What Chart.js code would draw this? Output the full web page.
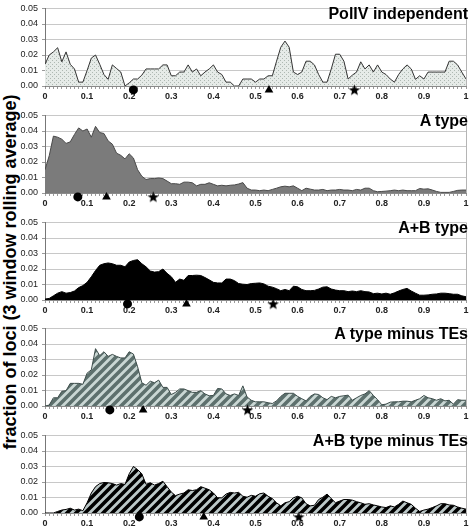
<!DOCTYPE html>
<html><head><meta charset="utf-8">
<script src="https://cdn.jsdelivr.net/npm/chart.js@4.4.0/dist/chart.umd.min.js"></script>
<style>
html,body{margin:0;padding:0;background:#fff;}
#wrap{position:relative;width:472px;height:530px;overflow:hidden;font-family:"Liberation Sans",Arial,sans-serif;}
canvas{position:absolute;left:0;}
.ttl{position:absolute;right:4px;font-weight:bold;font-size:16px;line-height:18px;color:#000;white-space:nowrap;}
#ytitle{position:absolute;left:10px;top:272px;transform:translate(-50%,-50%) rotate(-90deg);font-weight:bold;font-size:18px;line-height:20px;white-space:nowrap;color:#000;}
</style></head><body><div id="wrap">
<div id="ytitle">fraction of loci (3 window rolling average)</div>
</div>
<script>
// ---------- data ----------
const bins = Array.from({length:101},(_,i)=>i/100);
const xTickLabels = ['0','0.1','0.2','0.3','0.4','0.5','0.6','0.7','0.8','0.9','1'];
const yTickLabels = ['0.00','0.01','0.02','0.03','0.04','0.05'];
const panelTitles = ['PolIV independent','A type','A+B type','A type minus TEs','A+B type minus TEs'];

const polIV = [0.014,0.020,0.022,0.0247,0.0156,0.022,0.014,0.011,0.0025,0.0025,
0.010,0.018,0.020,0.014,0.0074,0.0043,0.0136,0.0113,0.009,0.0,
0.002,0.0045,0.0045,0.007,0.011,0.011,0.011,0.011,0.0136,0.0136,
0.0066,0.0066,0.009,0.009,0.0136,0.009,0.011,0.0066,0.009,0.011,
0.0136,0.009,0.0074,0.0025,0.0025,0,0,0.0045,0.0045,0.0045,
0.0025,0.0045,0.0045,0.0066,0.0066,0.016,0.025,0.029,0.025,0.009,
0.0074,0.009,0.016,0.016,0.0136,0.0074,0.0025,0.0025,0.011,0.0205,
0.0205,0.016,0.0045,0.007,0.009,0.0156,0.011,0.0136,0.009,0.0136,
0.009,0.0074,0.0045,0.0025,0.0074,0.011,0.0136,0.011,0.0043,0.0066,
0.0045,0.009,0.009,0.009,0.009,0.009,0.016,0.016,0.0136,0.009,
0.0045];

const aType = [0.015,0.024,0.0367,0.036,0.0347,0.032,0.033,0.0378,0.042,0.040,
0.0413,0.036,0.043,0.039,0.0384,0.0336,0.0315,0.0257,0.0243,0.022,
0.0253,0.0226,0.015,0.0108,0.0087,0.0093,0.0093,0.0097,0.0093,0.0077,
0.006,0.006,0.0056,0.007,0.007,0.0066,0.0046,0.0056,0.0056,0.0066,
0.0056,0.0046,0.005,0.0046,0.005,0.0052,0.0058,0.0067,0.0031,0.0019,
0.0019,0.0015,0.0019,0.0015,0.0023,0.0031,0.004,0.0044,0.004,0.0046,
0.0031,0.0015,0.0031,0.0025,0.0019,0.0019,0.0023,0.0015,0.0019,0.0019,
0.0023,0.0019,0.0019,0.0015,0.0023,0.0019,0.0031,0.0031,0.0015,0.0008,
0.001,0.0012,0.0015,0.0019,0.0015,0.0019,0.0015,0.0015,0.0015,0.0029,
0.0025,0.0027,0.0019,0.001,0.0004,0.0004,0.0004,0.001,0.0017,0.0019,
0.0019];

const abType = [0.0006,0.001,0.0027,0.0044,0.0054,0.0044,0.0048,0.0058,0.008,0.0093,
0.0114,0.015,0.019,0.0224,0.0234,0.0239,0.0234,0.0224,0.0224,0.0214,
0.0245,0.0255,0.026,0.0234,0.0214,0.0187,0.018,0.0183,0.020,0.0172,
0.015,0.0114,0.0135,0.0127,0.0158,0.0158,0.016,0.0158,0.0145,0.013,
0.0114,0.011,0.011,0.0135,0.0135,0.0125,0.0106,0.0102,0.010,0.0106,
0.0108,0.011,0.0104,0.0089,0.0083,0.0073,0.006,0.0068,0.006,0.0089,
0.0085,0.0068,0.006,0.006,0.0062,0.0071,0.0083,0.0085,0.0071,0.0064,
0.006,0.006,0.0054,0.0058,0.0054,0.006,0.0054,0.0052,0.0041,0.0044,
0.0039,0.0044,0.0037,0.0046,0.0058,0.0068,0.0075,0.0058,0.0044,0.0031,
0.0031,0.0033,0.0037,0.0039,0.0044,0.0044,0.0041,0.0037,0.0037,0.0027,
0.0021];

const aMinusTE = [0,0.0006,0.0053,0.0053,0.0095,0.0099,0.0146,0.0146,0.0146,0.014,
0.0212,0.0233,0.037,0.0325,0.035,0.032,0.0333,0.032,0.031,0.031,
0.035,0.0335,0.0253,0.015,0.0134,0.016,0.015,0.0167,0.012,0.012,
0.0074,0.0088,0.011,0.011,0.0099,0.0088,0.0088,0.0099,0.0078,0.0066,
0.0068,0.0113,0.011,0.0078,0.0068,0.0078,0.0068,0.013,0.0058,0.0037,
0.0027,0.0027,0.0027,0.0021,0.0016,0.0033,0.0062,0.0082,0.0082,0.0082,
0.0062,0.0047,0.0033,0.0062,0.0078,0.0074,0.0053,0.0041,0.0062,0.0053,
0.0062,0.0066,0.007,0.0037,0.0053,0.0068,0.0078,0.0099,0.0068,0.0041,
0.0008,0.0012,0.0025,0.0027,0.0027,0.0031,0.0031,0.0027,0.0037,0.0047,
0.0068,0.0053,0.0047,0.0037,0.0047,0.0033,0.0037,0.0012,0.0041,0.0037,
0.0037];

const abMinusTE = [0,0,0,0.001,0.0019,0.0023,0.0031,0.0019,0.0025,0.0015,
0.0066,0.0129,0.017,0.019,0.0197,0.0195,0.019,0.018,0.019,0.0184,
0.0253,0.030,0.028,0.0253,0.0185,0.0195,0.018,0.019,0.0205,0.017,
0.0135,0.0112,0.0122,0.0129,0.015,0.0145,0.015,0.017,0.016,0.015,
0.0129,0.0098,0.0098,0.0122,0.0133,0.0129,0.0133,0.0108,0.0102,0.0114,
0.0108,0.0124,0.0129,0.0108,0.0093,0.0066,0.0046,0.0066,0.0073,0.0098,
0.0108,0.0098,0.006,0.0046,0.005,0.0087,0.0102,0.0122,0.0093,0.0066,
0.0077,0.0087,0.0087,0.0083,0.0073,0.0066,0.0056,0.006,0.0052,0.0046,
0.0039,0.0035,0.0046,0.0039,0.0056,0.0077,0.0066,0.0056,0.0031,0.001,
0.0019,0.0025,0.0035,0.0046,0.006,0.006,0.0052,0.005,0.0039,0.0031,
0.0025];

// marker positions (circle, triangle, star) per panel
const circlePos   = [0.210, 0.078, 0.196, 0.154, 0.224];
const trianglePos = [0.532, 0.146, 0.336, 0.233, 0.377];
const starPos     = [0.735, 0.257, 0.542, 0.481, 0.603];

// ---------- styling / layout ----------
const series = [polIV, aType, abType, aMinusTE, abMinusTE];
const plotTops = [5, 112, 219, 325, 432];
const plotH = 80.5;
const MARKER_OFFSET = -0.0025;

Chart.defaults.font.family = '"Liberation Sans", Arial, sans-serif';

function dotPattern(){
  const c=document.createElement('canvas'); c.width=4; c.height=4;
  const g=c.getContext('2d'); g.fillStyle='#e6ebe8'; g.fillRect(0,0,4,4);
  g.fillStyle='#aeb8b2'; g.fillRect(0,0,1,1); g.fillRect(2,2,1,1);
  return g.createPattern(c,'repeat');
}
function stripePattern(dark, light, size, w){
  const c=document.createElement('canvas'); c.width=size; c.height=size;
  const g=c.getContext('2d'); g.fillStyle=light; g.fillRect(0,0,size,size);
  g.strokeStyle=dark; g.lineWidth=w; g.lineCap='square';
  g.beginPath();
  g.moveTo(-size,size); g.lineTo(size,-size);
  g.moveTo(0,size*2); g.lineTo(size*2,0);
  g.moveTo(0,size); g.lineTo(size,0);
  g.stroke();
  return g.createPattern(c,'repeat');
}
function starCanvas(){
  const s=13, c=document.createElement('canvas'); c.width=s; c.height=s;
  const g=c.getContext('2d'); g.fillStyle='#000'; g.beginPath();
  for(let k=0;k<10;k++){
    const r = k%2===0 ? 6 : 2.5;
    const a = -Math.PI/2 + k*Math.PI/5;
    const px = s/2 + r*Math.cos(a), py = s/2 + 0.5 + r*Math.sin(a);
    k===0 ? g.moveTo(px,py) : g.lineTo(px,py);
  }
  g.closePath(); g.fill();
  return c;
}

const fills = [dotPattern(), '#7b7b7b', '#000000',
  stripePattern('#5d706d','#cad7d4',9,3.6), stripePattern('#000000','#bcc8c8',9,3.6)];
const borders = ['#333333','#4a4a4a','#000000','#3c4c4a','#000000'];
const starImg = starCanvas();

const wrap = document.getElementById('wrap');
const X_AXIS_H = 18;

series.forEach((vals, i) => {
  const cv = document.createElement('canvas');
  const h = Math.round(5 + plotH + X_AXIS_H);
  cv.width = 472; cv.height = h;
  cv.style.top = (plotTops[i]-5) + 'px';
  wrap.appendChild(cv);

  const t = document.createElement('div');
  t.className = 'ttl'; t.textContent = panelTitles[i];
  t.style.top = (plotTops[i]) + 'px';
  wrap.appendChild(t);

  const mk = (pos, style, r) => ({
    data: [{x: pos, y: MARKER_OFFSET}], showLine:false, pointStyle: style,
    pointRadius: r, pointHoverRadius: r, backgroundColor:'#000', borderColor:'#000',
    borderWidth: 0, clip: false, order: 0
  });

  new Chart(cv, {
    type: 'line',
    data: { datasets: [
      { data: bins.map((x,k)=>({x, y: vals[k]})), fill: 'origin',
        backgroundColor: fills[i], borderColor: borders[i], borderWidth: 1,
        pointRadius: 0, tension: 0, order: 2 },
      mk(circlePos[i], 'circle', 4.5),
      mk(trianglePos[i], 'triangle', 5),
      mk(starPos[i], starImg, 6)
    ]},
    options: {
      animation: false, responsive: false, maintainAspectRatio: false,
      devicePixelRatio: 1,
      events: [],
      layout: { padding: { top: 5, right: 3, left: 0, bottom: 0 } },
      plugins: { legend: { display: false }, tooltip: { enabled: false } },
      scales: {
        x: {
          type: 'linear', min: 0, max: 1,
          afterFit: s => { s.height = X_AXIS_H; },
          ticks: { stepSize: 0.01, autoSkip: false, maxTicksLimit: 200, maxRotation: 0,
            padding: 3, color: '#222', font: { size: 9, weight: 'bold', lineHeight: 1 },
            callback: v => { const k = Math.round(v*100); return k % 10 === 0 ? xTickLabels[k/10] : ''; } },
          grid: { drawOnChartArea: true, tickLength: 3,
            color: c => (c.tick && Math.round(c.tick.value*100) === 100) ? '#b5b5b5' : 'rgba(0,0,0,0)',
            tickColor: '#9a9a9a' },
          border: { color: '#8a8a8a', width: 1 }
        },
        y: {
          min: 0, max: 0.05,
          afterFit: s => { s.width = 45; },
          ticks: { stepSize: 0.01, padding: 4, color: '#222', font: { size: 9, lineHeight: 1 },
            callback: v => yTickLabels[Math.round(v*100)] },
          grid: { color: '#c8c8c8', tickLength: 3, tickColor: '#9a9a9a' },
          border: { color: '#777', width: 1 }
        }
      }
    }
  });
});
</script>
</body></html>
